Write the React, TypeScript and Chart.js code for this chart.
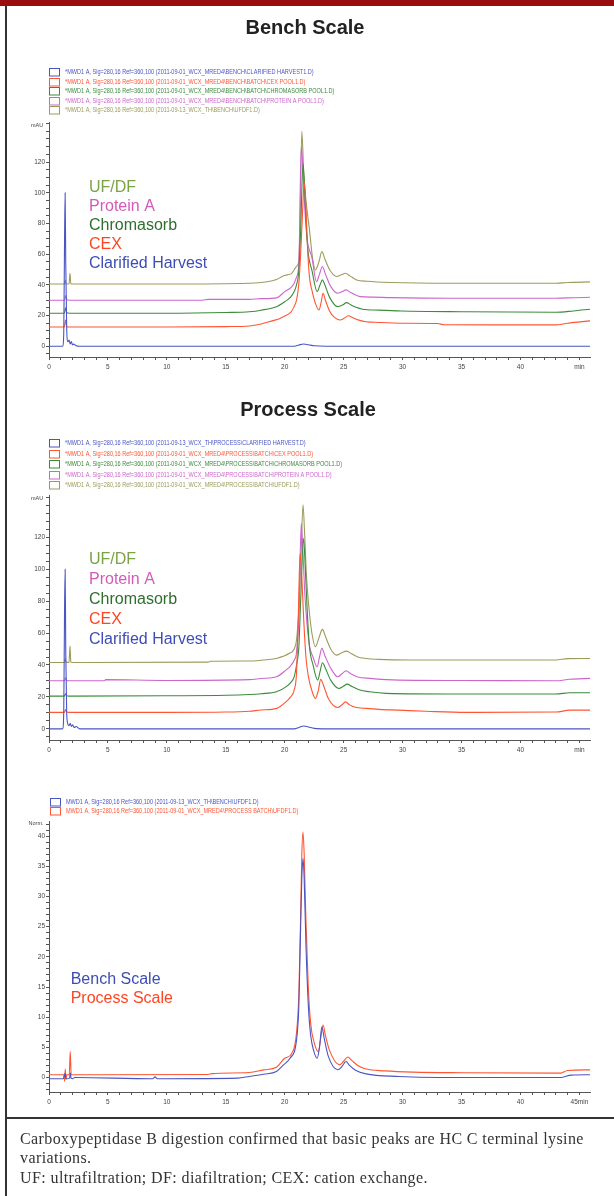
import React, { useEffect, useRef } from "react";
import { Chart, registerables } from "chart.js";

Chart.register(...registerables);

// ---------------- DATA ----------------
// Bench scale (mAU) — retention time (min) / absorbance
const benchHarvestT = [0, 1.15, 1.25, 1.32, 1.37, 1.42, 1.5, 1.6, 1.7, 1.8, 1.9, 2.0, 2.1, 2.3, 2.6, 20.8, 21.2, 21.6, 22.0, 22.5, 23.5, 45.9];
const benchHarvestV = [0, 0, 8, 70, 100, 55, 12, 3, 4, 1.5, 3, 0.8, 1.5, 0.3, 0, 0, 0.8, 1.5, 1.0, 0.3, 0, 0];

const benchCexT = [0, 1.3, 1.4, 1.5, 1.7, 5, 10, 15, 17, 18, 19, 19.5, 20, 20.5, 20.8, 21.0, 21.2, 21.35, 21.5, 21.65, 21.8, 21.95, 22.1, 22.3, 22.6, 22.9, 23.1, 23.25, 23.45, 23.8, 24.2, 24.7, 25.0, 25.4, 25.8, 26.3, 26.9, 28, 29.9, 33, 33.5, 38, 43, 44, 45.9];
const benchCexV = [12.5, 12.5, 17, 13, 12.5, 12.5, 12.5, 12.8, 13.2, 14.5, 16.7, 17.8, 19.7, 22, 25.8, 30, 41, 60, 85, 107, 90, 62, 45, 36.7, 28, 23.6, 29, 34.5, 30, 23, 19, 17.1, 18, 19.9, 18.5, 17, 16, 15.5, 15, 14.8, 14, 13.9, 13.9, 15, 16.5];

const benchChromT = [0, 1.3, 1.4, 1.5, 1.7, 10, 15, 17, 18, 19.3, 20, 20.5, 20.8, 21.0, 21.2, 21.35, 21.55, 21.7, 21.85, 22.0, 22.3, 22.75, 23.0, 23.2, 23.4, 23.8, 24.5, 24.9, 25.25, 25.6, 26.0, 26.6, 28, 29.9, 35, 43, 44.5, 45.9];
const benchChromV = [21.5, 21.5, 25, 22, 21.5, 21.5, 22, 22.5, 23.5, 25.8, 29, 32, 35.6, 40, 49.7, 75, 119, 100, 75, 60, 49.7, 35.6, 40, 43.2, 40, 32, 25.8, 26.8, 28.4, 27, 25.5, 24.1, 23.5, 23, 22.5, 22.1, 23, 24.1];

const benchProtAT = [0, 1.3, 1.4, 1.5, 1.7, 13, 13.5, 17, 18, 19.3, 20, 20.5, 20.8, 21.0, 21.2, 21.4, 21.55, 21.7, 21.9, 22.3, 22.7, 22.95, 23.2, 23.45, 23.9, 24.5, 24.85, 25.2, 25.6, 26.4, 27.5, 29, 34, 43, 44.5, 45.9];
const benchProtAV = [30, 30, 33, 30.5, 30, 30, 30.5, 30.5, 31, 31.5, 35.6, 38, 41, 45, 54, 130, 115, 90, 70, 58, 42, 47, 51.9, 47, 39, 34.5, 35.5, 36.7, 35, 32.3, 32, 31.7, 31.3, 31.3, 31.6, 31.9];

const benchUfdfT = [0, 1.3, 1.38, 1.45, 1.7, 1.78, 1.85, 2.0, 10, 17, 18.5, 19.3, 19.8, 20.2, 20.6, 21.0, 21.2, 21.3, 21.45, 21.6, 21.8, 22.1, 22.35, 22.6, 22.9, 23.15, 23.4, 23.8, 24.4, 24.8, 25.15, 25.5, 26.1, 27, 29, 34, 43, 44, 45.9];
const benchUfdfV = [40.5, 40.5, 43, 40.5, 40.5, 47.5, 41, 40.5, 40.5, 41, 42, 43.5, 45.5, 46.5, 47.5, 52, 56, 80, 140, 115, 95, 75.8, 58, 49.7, 55, 61.6, 57, 50, 45.4, 46.5, 47.5, 46, 43.2, 42.3, 41.5, 41, 41, 41.5, 41.9];

// Process scale (mAU)
const procHarvestT = [0, 1.15, 1.25, 1.32, 1.37, 1.42, 1.5, 1.6, 1.7, 1.8, 1.9, 2.0, 2.15, 2.3, 2.6, 20.8, 21.2, 21.6, 22.0, 22.5, 23.5, 45.9];
const procHarvestV = [0, 0, 10, 75, 100, 50, 10, 3, 2, 3.5, 1.5, 2.5, 0.8, 1.5, 0, 0, 0.8, 1.8, 1.2, 0.3, 0, 0];

const procCexT = [0, 1.3, 1.4, 1.5, 1.7, 10, 15, 17, 18, 19.3, 20.1, 20.5, 20.8, 21.0, 21.15, 21.3, 21.45, 21.6, 21.8, 22.0, 22.3, 22.6, 22.85, 23.05, 23.3, 23.7, 24.5, 24.85, 25.15, 25.5, 26.0, 26.9, 28, 29.7, 32, 35.4, 43, 44.2, 45.9];
const procCexV = [10.3, 10.3, 12, 10.5, 10.3, 10.3, 10.5, 11, 11.8, 12.8, 16.9, 20, 24.3, 35, 70, 110, 95, 70, 45, 33, 24, 19, 24, 31, 27, 19, 13.4, 15, 16.9, 15, 13.5, 12.8, 12.2, 11.7, 11, 10.3, 10.5, 11.7, 11.7];

const procChromT = [0, 1.3, 1.4, 1.5, 1.7, 10, 15, 17, 18, 19.3, 20.1, 20.5, 20.8, 21.0, 21.2, 21.35, 21.6, 21.75, 21.9, 22.1, 22.4, 22.8, 23.0, 23.2, 23.45, 23.9, 24.6, 24.95, 25.3, 25.7, 26.3, 27.2, 28.6, 35, 43, 44.2, 45.9];
const procChromV = [20.5, 20.5, 22, 20.8, 20.5, 20.7, 21, 21.5, 22, 23.2, 26.3, 29, 32.6, 40, 51.4, 80, 119.4, 100, 75, 51.4, 40, 30.5, 36, 41.4, 38, 30.5, 25.3, 26.5, 28, 26.5, 24.5, 23.2, 22.2, 21.8, 21.8, 22.6, 22.6];

const procProtAT = [0, 1.3, 1.4, 1.5, 1.7, 4.7, 4.8, 10, 17, 18, 19.3, 20.1, 20.5, 20.8, 21.0, 21.2, 21.4, 21.55, 21.7, 21.9, 22.1, 22.4, 22.75, 22.95, 23.15, 23.4, 23.9, 24.5, 24.85, 25.2, 25.6, 26.2, 27.2, 29.7, 35, 43, 44.2, 45.9];
const procProtAV = [30.1, 30.1, 32, 30.3, 30.1, 30.1, 30.8, 30.3, 30.8, 31.5, 32.6, 36.8, 39.5, 43, 48, 70, 128.8, 110, 85, 65, 52, 45, 38.9, 45, 50.4, 46, 38, 32.6, 34.5, 36.4, 34.5, 32.5, 31.6, 30.5, 30.3, 30.1, 31.1, 31.6];

const procUfdfT = [0, 1.3, 1.38, 1.45, 1.7, 1.78, 1.85, 2.0, 13.5, 13.7, 17, 18.5, 19.3, 20.4, 20.8, 21.0, 21.2, 21.35, 21.55, 21.7, 21.85, 22.1, 22.35, 22.6, 22.9, 23.2, 23.45, 23.9, 24.4, 24.8, 25.25, 25.6, 26.2, 26.9, 28, 30.6, 35, 43, 44, 45.9];
const procUfdfV = [41.6, 41.6, 44, 41.8, 41.6, 51.8, 42, 41.6, 41.8, 42.3, 42.5, 43.3, 44.1, 47.3, 50, 55.6, 75, 100, 140.3, 120, 95, 72.3, 58, 51.4, 57, 62.3, 58, 50, 46.2, 47.5, 48.7, 47.3, 45, 44.1, 43.5, 43.1, 43.1, 43.1, 44, 44.1];

// Normalized overlay (Norm.)
const normBenchT = [0, 1.2, 1.3, 1.36, 1.42, 1.5, 1.75, 1.8, 1.87, 2.0, 2.2, 8.8, 9.0, 9.2, 9.5, 16, 17, 18.2, 19.3, 19.9, 20.45, 21.0, 21.2, 21.35, 21.45, 21.55, 21.65, 21.8, 22.0, 22.2, 22.45, 22.75, 22.95, 23.15, 23.35, 23.7, 24.5, 24.85, 25.2, 25.5, 26.0, 26.9, 29.7, 33.1, 43.4, 44.3, 45.9];
const normBenchV = [-0.2, -0.2, 0.3, 0.7, -0.1, -0.2, -0.1, 0.8, -0.1, -0.2, 0, -0.2, 0.1, -0.2, -0.2, -0.1, 0.17, 0.55, 1.0, 2.1, 3.2, 6.2, 12, 25, 33, 36.3, 33, 22, 12, 7, 4.5, 3.2, 5, 8.4, 6.5, 3.5, 1.3, 1.8, 2.65, 2.0, 1.2, 0.6, 0.17, 0, 0, 0.4, 0.45];

const normProcT = [0, 1.25, 1.32, 1.38, 1.44, 1.5, 1.72, 1.8, 1.88, 2.0, 13.5, 13.8, 17, 18.2, 19.3, 20.0, 20.6, 21.0, 21.2, 21.35, 21.45, 21.55, 21.65, 21.8, 22.0, 22.2, 22.5, 22.85, 23.05, 23.25, 23.45, 23.8, 24.65, 25.0, 25.35, 25.7, 26.2, 26.9, 28.5, 30.9, 35, 43.4, 44, 45.9];
const normProcV = [0.45, 0.45, -0.6, 1.4, -0.3, 0.45, 0.5, 4.3, 0.6, 0.45, 0.5, 0.65, 0.83, 1.27, 1.7, 3.2, 4.0, 7.4, 14, 27, 37, 40.7, 37, 26, 15, 9, 5.8, 4.3, 6.5, 8.7, 7, 4.5, 2.1, 2.7, 3.4, 2.8, 2.0, 1.4, 1.1, 0.9, 0.8, 0.73, 1.17, 1.27];

// Text
const benchTitle = "Bench Scale";
const procTitle = "Process Scale";
const benchLegend = [
  "*MWD1 A, Sig=280,16 Ref=360,100 (2011-09-01_WCX_MRED4\\BENCH\\CLARIFIED HARVEST1.D)",
  "*MWD1 A, Sig=280,16 Ref=360,100 (2011-09-01_WCX_MRED4\\BENCH\\BATCH\\CEX POOL1.D)",
  "*MWD1 A, Sig=280,16 Ref=360,100 (2011-09-01_WCX_MRED4\\BENCH\\BATCH\\CHROMASORB POOL1.D)",
  "*MWD1 A, Sig=280,16 Ref=360,100 (2011-09-01_WCX_MRED4\\BENCH\\BATCH\\PROTEIN A POOL1.D)",
  "*MWD1 A, Sig=280,16 Ref=360,100 (2011-09-13_WCX_TH\\BENCH\\UFDF1.D)",
];
const procLegend = [
  "*MWD1 A, Sig=280,16 Ref=360,100 (2011-09-13_WCX_TH\\PROCESS\\CLARIFIED HARVEST.D)",
  "*MWD1 A, Sig=280,16 Ref=360,100 (2011-09-01_WCX_MRED4\\PROCESS\\BATCH\\CEX POOL1.D)",
  "*MWD1 A, Sig=280,16 Ref=360,100 (2011-09-01_WCX_MRED4\\PROCESS\\BATCH\\CHROMASORB POOL1.D)",
  "*MWD1 A, Sig=280,16 Ref=360,100 (2011-09-01_WCX_MRED4\\PROCESS\\BATCH\\PROTEIN A POOL1.D)",
  "*MWD1 A, Sig=280,16 Ref=360,100 (2011-09-01_WCX_MRED4\\PROCESS\\BATCH\\UFDF1.D)",
];
const normLegend = [
  "MWD1 A, Sig=280,16 Ref=360,100 (2011-09-13_WCX_TH\\BENCH\\UFDF1.D)",
  "MWD1 A, Sig=280,16 Ref=360,100 (2011-09-01_WCX_MRED4\\PROCESS BATCH\\UFDF1.D)",
];
const stageLabels = ["UF/DF", "Protein A", "Chromasorb", "CEX", "Clarified Harvest"];
const scaleLabels = ["Bench Scale", "Process Scale"];
const captionLines = [
  "Carboxypeptidase B digestion confirmed that basic peaks are HC C terminal lysine",
  "variations.",
  "UF: ultrafiltration; DF: diafiltration; CEX: cation exchange.",
];

// ---------------- STYLE ----------------
const BLUE = "#4a55c4";
const RED = "#ff5533";
const GREEN = "#3b8b3b";
const PINK = "#cc66cc";
const OLIVE = "#9d9b5b";
const stageColors = ["#7ba346", "#d45ab8", "#2e6e2e", "#ff4422", "#3d4db5"];
const scaleColors = ["#3d4db5", "#ff4422"];
const AXIS = "#555";
const TICK = "#444";
const SANS = "'Liberation Sans', Arial, sans-serif";

const decorPlugin = {
  id: "decor",
  afterDraw(chart: any, _args: any, o: any) {
    const ctx = chart.ctx as CanvasRenderingContext2D;
    ctx.save();
    if (o.title) {
      ctx.font = `bold 20px ${SANS}`;
      ctx.fillStyle = "#222";
      ctx.textAlign = "center";
      ctx.textBaseline = "middle";
      ctx.fillText(o.title, o.titleX, o.titleY);
    }
    const ds = chart.data.datasets;
    (o.legend as string[]).forEach((txt, i) => {
      const y = o.legendY + i * o.legendStep;
      const c = ds[i].borderColor;
      ctx.strokeStyle = c;
      ctx.lineWidth = 1;
      ctx.strokeRect(o.legendX + 0.5, Math.round(y - 4) + 0.5, 10, 7.5);
      ctx.save();
      ctx.translate(o.legendX + 16, y);
      ctx.scale(o.legendScale, 1);
      ctx.font = `7.5px ${SANS}`;
      ctx.fillStyle = c;
      ctx.textAlign = "left";
      ctx.textBaseline = "middle";
      ctx.fillText(txt, 0, 0);
      ctx.restore();
    });
    ctx.font = `5.5px ${SANS}`;
    ctx.fillStyle = TICK;
    ctx.textAlign = "center";
    ctx.textBaseline = "middle";
    ctx.fillText(o.unit, o.unitX, o.unitY);
    (o.inline as string[]).forEach((txt, i) => {
      ctx.font = `16px ${SANS}`;
      ctx.fillStyle = o.inlineColors[i];
      ctx.textAlign = "left";
      ctx.textBaseline = "middle";
      ctx.fillText(txt, o.inlineX, o.inlineY + i * o.inlineStep);
    });
    ctx.restore();
  },
};

type Series = { label: string; color: string; t: number[]; v: number[] };

const isInt = (v: number) => Math.abs(v - Math.round(v)) < 1e-6;

function stepTicks(lo: number, hi: number, step: number) {
  const out: { value: number }[] = [];
  for (let v = Math.ceil(lo / step) * step; v <= hi + 1e-9; v += step) out.push({ value: Math.round(v * 1000) / 1000 });
  return out;
}

function makeConfig(p: {
  series: Series[];
  yMin: number;
  yMax: number;
  yStep: number;
  yLabelEvery: number;
  yLabelMax: number;
  lastLabel: string;
  padTop: number;
  padBottom: number;
  decor: any;
}): any {
  return {
    type: "line",
    data: {
      datasets: p.series.map((s) => ({
        label: s.label,
        data: s.t.map((x, i) => ({ x, y: s.v[i] })),
        borderColor: s.color,
        backgroundColor: s.color,
        borderWidth: 1.1,
        pointRadius: 0,
        cubicInterpolationMode: "monotone",
        fill: false,
      })),
    },
    options: {
      responsive: false,
      animation: false,
      events: [],
      layout: { padding: { top: p.padTop, left: 0, right: 24, bottom: p.padBottom } },
      plugins: {
        legend: { display: false },
        title: { display: false },
        tooltip: { enabled: false },
        decor: p.decor,
      },
      scales: {
        x: {
          type: "linear",
          min: 0,
          max: 45.9,
          afterBuildTicks: (s: any) => {
            s.ticks = stepTicks(0, 45, 1);
          },
          afterFit: (s: any) => {
            s.height = 18;
          },
          border: { display: true, color: AXIS, width: 1 },
          grid: { display: true, drawOnChartArea: false, drawTicks: true, tickLength: 3, color: AXIS },
          ticks: {
            autoSkip: false,
            maxRotation: 0,
            padding: 3,
            color: TICK,
            font: { size: 6.5, family: SANS },
            callback: (v: number) => {
              if (!isInt(v)) return "";
              const r = Math.round(v);
              if (r === 45) return p.lastLabel;
              return r % 5 === 0 ? String(r) : "";
            },
          },
        },
        y: {
          type: "linear",
          min: p.yMin,
          max: p.yMax,
          afterBuildTicks: (s: any) => {
            s.ticks = stepTicks(p.yMin, p.yMax, p.yStep);
          },
          afterFit: (s: any) => {
            s.width = 49;
          },
          border: { display: true, color: AXIS, width: 1 },
          grid: { display: true, drawOnChartArea: false, drawTicks: true, tickLength: 3, color: AXIS },
          ticks: {
            autoSkip: false,
            padding: 1,
            color: TICK,
            font: { size: 6.5, family: SANS },
            callback: (v: number) => {
              if (!isInt(v)) return "";
              const r = Math.round(v);
              return r % p.yLabelEvery === 0 && r <= p.yLabelMax ? String(r) : "";
            },
          },
        },
      },
    },
    plugins: [decorPlugin],
  };
}

const benchConfig = () =>
  makeConfig({
    series: [
      { label: benchLegend[0], color: BLUE, t: benchHarvestT, v: benchHarvestV },
      { label: benchLegend[1], color: RED, t: benchCexT, v: benchCexV },
      { label: benchLegend[2], color: GREEN, t: benchChromT, v: benchChromV },
      { label: benchLegend[3], color: PINK, t: benchProtAT, v: benchProtAV },
      { label: benchLegend[4], color: OLIVE, t: benchUfdfT, v: benchUfdfV },
    ],
    yMin: -7,
    yMax: 145.6,
    yStep: 5,
    yLabelEvery: 20,
    yLabelMax: 120,
    lastLabel: "min",
    padTop: 122.7,
    padBottom: 5,
    decor: {
      title: benchTitle, titleX: 305, titleY: 28,
      legend: benchLegend, legendX: 49, legendY: 72, legendStep: 9.6, legendScale: 0.74,
      unit: "mAU", unitX: 37, unitY: 125,
      inline: stageLabels, inlineColors: stageColors, inlineX: 89, inlineY: 188, inlineStep: 19,
    },
  });

const procConfig = () =>
  makeConfig({
    series: [
      { label: procLegend[0], color: BLUE, t: procHarvestT, v: procHarvestV },
      { label: procLegend[1], color: RED, t: procCexT, v: procCexV },
      { label: procLegend[2], color: GREEN, t: procChromT, v: procChromV },
      { label: procLegend[3], color: PINK, t: procProtAT, v: procProtAV },
      { label: procLegend[4], color: OLIVE, t: procUfdfT, v: procUfdfV },
    ],
    yMin: -7,
    yMax: 146.5,
    yStep: 5,
    yLabelEvery: 20,
    yLabelMax: 120,
    lastLabel: "min",
    padTop: 115,
    padBottom: 4,
    decor: {
      title: procTitle, titleX: 308, titleY: 30,
      legend: procLegend, legendX: 49, legendY: 63.3, legendStep: 10.4, legendScale: 0.74,
      unit: "mAU", unitX: 37, unitY: 118,
      inline: stageLabels, inlineColors: stageColors, inlineX: 89, inlineY: 180, inlineStep: 19.8,
    },
  });

const normConfig = () =>
  makeConfig({
    series: [
      { label: normLegend[0], color: BLUE, t: normBenchT, v: normBenchV },
      { label: normLegend[1], color: RED, t: normProcT, v: normProcV },
    ],
    yMin: -2.4,
    yMax: 42.4,
    yStep: 1,
    yLabelEvery: 5,
    yLabelMax: 40,
    lastLabel: "45min",
    padTop: 59.7,
    padBottom: 4,
    decor: {
      title: "",
      legend: normLegend, legendX: 50, legendY: 39.7, legendStep: 9.3, legendScale: 0.74,
      unit: "Norm.", unitX: 36, unitY: 61,
      inline: scaleLabels, inlineColors: scaleColors, inlineX: 70.7, inlineY: 217.3, inlineStep: 19,
    },
  });

function ChartBox({ top, height, make }: { top: number; height: number; make: () => any }) {
  const ref = useRef<HTMLCanvasElement>(null);
  useEffect(() => {
    if (!ref.current) return;
    const chart = new Chart(ref.current, make());
    return () => chart.destroy();
  }, []);
  return (
    <canvas
      ref={ref}
      width={614}
      height={height}
      style={{ position: "absolute", left: 0, top, width: 614, height }}
    />
  );
}

export default function App() {
  return (
    <div style={{ position: "absolute", left: 0, top: 0, width: 614, height: 1196, background: "#fff", overflow: "hidden" }}>
      <ChartBox top={0} height={380} make={benchConfig} />
      <ChartBox top={380} height={382} make={procConfig} />
      <ChartBox top={762} height={352} make={normConfig} />
      <div style={{ position: "absolute", left: 0, top: 0, width: 614, height: 6, background: "#9b0b10" }} />
      <div style={{ position: "absolute", left: 5, top: 6, width: 2, height: 1190, background: "#333" }} />
      <div style={{ position: "absolute", left: 6, top: 1117, width: 608, height: 2, background: "#333" }} />
      <div
        style={{
          position: "absolute",
          left: 20,
          top: 1128.5,
          width: 594,
          fontFamily: "'Liberation Serif', 'Times New Roman', serif",
          fontSize: 16,
          letterSpacing: "0.4px",
          lineHeight: "19.7px",
          color: "#333",
          whiteSpace: "nowrap",
        }}
      >
        {captionLines.map((l, i) => (
          <div key={i}>{l}</div>
        ))}
      </div>
    </div>
  );
}
